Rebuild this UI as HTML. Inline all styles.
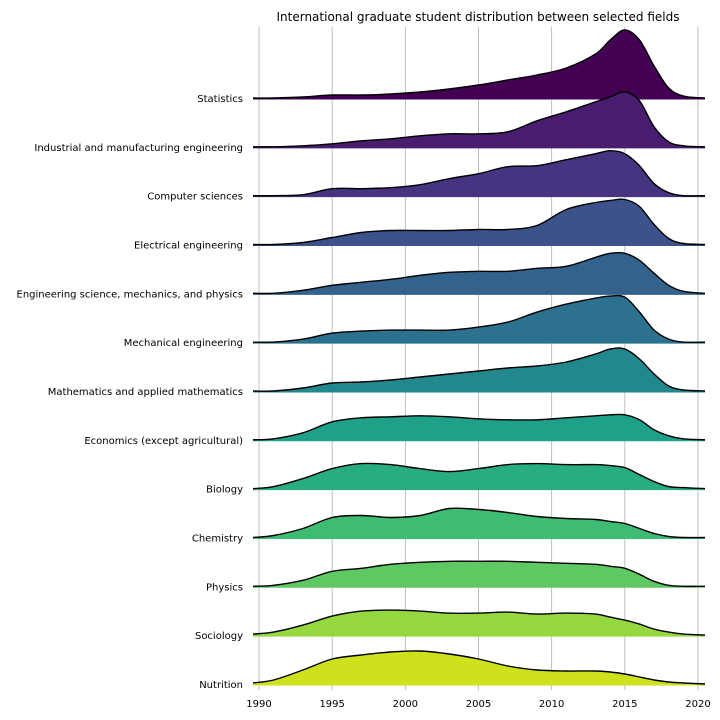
<!DOCTYPE html>
<html><head><meta charset="utf-8"><style>
body{margin:0;background:#fff;}
svg{display:block;font-family:"DejaVu Sans","Liberation Sans",sans-serif;}
</style></head><body>
<svg id="chart" width="720" height="720">
<text x="478" y="21" text-anchor="middle" font-size="12" fill="#000">International graduate student distribution between selected fields</text>
<g id="grid"></g>
<g id="ridges"></g>
<g id="xaxis"></g>
</svg>
<script>
const categories=["Statistics","Industrial and manufacturing engineering","Computer sciences","Electrical engineering","Engineering science, mechanics, and physics","Mechanical engineering","Mathematics and applied mathematics","Economics (except agricultural)","Biology","Chemistry","Physics","Sociology","Nutrition"];
const years=[1989.5,1991,1993,1995,1997,1999,2001,2003,2005,2007,2009,2011,2013,2014,2015,2016,2017,2018,2019,2020.5];
const statistics=[0,0,1,3,3,4,6,9,13,18,23,30,44,58,68,58,32,10,2,0];
const industrial=[0,0,1,3,6,8,11,13,13,15,26,35,45,50,55,46,20,5,1,0];
const computer=[0,0,1,7,7,8,11,17,22,29,30,36,42,45,42,30,12,3,0,0];
const electrical=[0,0,2,7,12,14,14,14,15,15,19,35,42,44,45,38,20,6,1,0];
const engsci=[0,0,3,8,11,14,18,21,22,22,25,27,36,40,40,33,20,8,2,0];
const mechanical=[0,0,3,9,11,12,12,12,15,20,30,38,44,46,45,30,12,3,0,0];
const mathematics=[0,0,3,8,9,11,14,17,20,23,25,29,37,42,42,32,17,5,1,0];
const economics=[0,1,7,18,22,23,24,23,21,20,20,22,24,25,25,20,10,4,1,0];
const biology=[0,2,10,20,25,24,20,17,20,24,25,24,24,23,21,14,7,2,1,0];
const chemistry=[0,2,9,20,22,20,22,29,28,25,21,19,18,16,14,9,4,1,0,0];
const physics=[0,1,6,15,18,22,24,25,25,25,24,23,22,20,18,12,5,1,0,0];
const sociology=[1,3,10,19,24,25,24,22,22,23,21,22,21,18,15,11,6,3,1,0];
const nutrition=[1,4,14,25,29,32,33,30,25,18,14,13,13,12,10,7,4,2,1,0];
const series=[statistics,industrial,computer,electrical,engsci,mechanical,mathematics,economics,biology,chemistry,physics,sociology,nutrition];
const colors=["#440154","#481c6e","#463480","#3b528b","#33638d","#2c728e","#23878e","#1fa088","#27ad81","#3fbc73","#5ec962","#95d840","#cde11d"];
const xTicks=[1990,1995,2000,2005,2010,2015,2020];

const NS="http://www.w3.org/2000/svg";
const x=v=>259+(v-1990)*14.633;
const base=i=>98+i*48.83;
const X0=253,X1=705;
function mk(t,a,p){const e=document.createElementNS(NS,t);for(const k in a)e.setAttribute(k,a[k]);p.appendChild(e);return e;}
const grid=document.getElementById('grid'),ridges=document.getElementById('ridges'),xaxis=document.getElementById('xaxis');
xTicks.forEach(t=>{
  const l=mk('line',{x1:x(t),x2:x(t),y1:27,y2:690,stroke:'#b0b0b0','stroke-width':0.8},grid);
  
  
  const tx=mk('text',{x:x(t),y:707,'text-anchor':'middle','font-size':10,fill:'#000'},xaxis);
  tx.textContent=t;
  
  
});
function curve(pts){
  let d='';
  for(let i=0;i<pts.length-1;i++){
    const p0=pts[Math.max(0,i-1)],p1=pts[i],p2=pts[i+1],p3=pts[Math.min(pts.length-1,i+2)];
    const c1=[p1[0]+(p2[0]-p0[0])/6,p1[1]+(p2[1]-p0[1])/6];
    const c2=[p2[0]-(p3[0]-p1[0])/6,p2[1]-(p3[1]-p1[1])/6];
    d+=` C${c1[0].toFixed(1)},${c1[1].toFixed(1)} ${c2[0].toFixed(1)},${c2[1].toFixed(1)} ${p2[0].toFixed(1)},${p2[1].toFixed(1)}`;
  }
  return d;
}
series.forEach((vals,i)=>{
  const b=base(i);
  const pts=years.map((yr,j)=>[x(yr),b-vals[j]]);
  pts[0][0]=X0;pts[pts.length-1][0]=X1;
  const c=curve(pts);
  const g=mk('g',{},ridges);
  
  
  mk('path',{d:`M${pts[0][0]},${pts[0][1]}${c} L${X1},${b} L${X0},${b} Z`,fill:colors[i],stroke:'none'},g);
  mk('line',{x1:X0,x2:X1,y1:b+0.5,y2:b+0.5,stroke:colors[i],'stroke-width':2},g);
  mk('path',{d:`M${pts[0][0]},${pts[0][1]}${c}`,fill:'none',stroke:'#000','stroke-width':1.4},g);
  const lb=mk('text',{x:243,y:b+4,'text-anchor':'end','font-size':10,fill:'#000'},g);
  lb.textContent=categories[i];
  
  
});
</script>
</body></html>
